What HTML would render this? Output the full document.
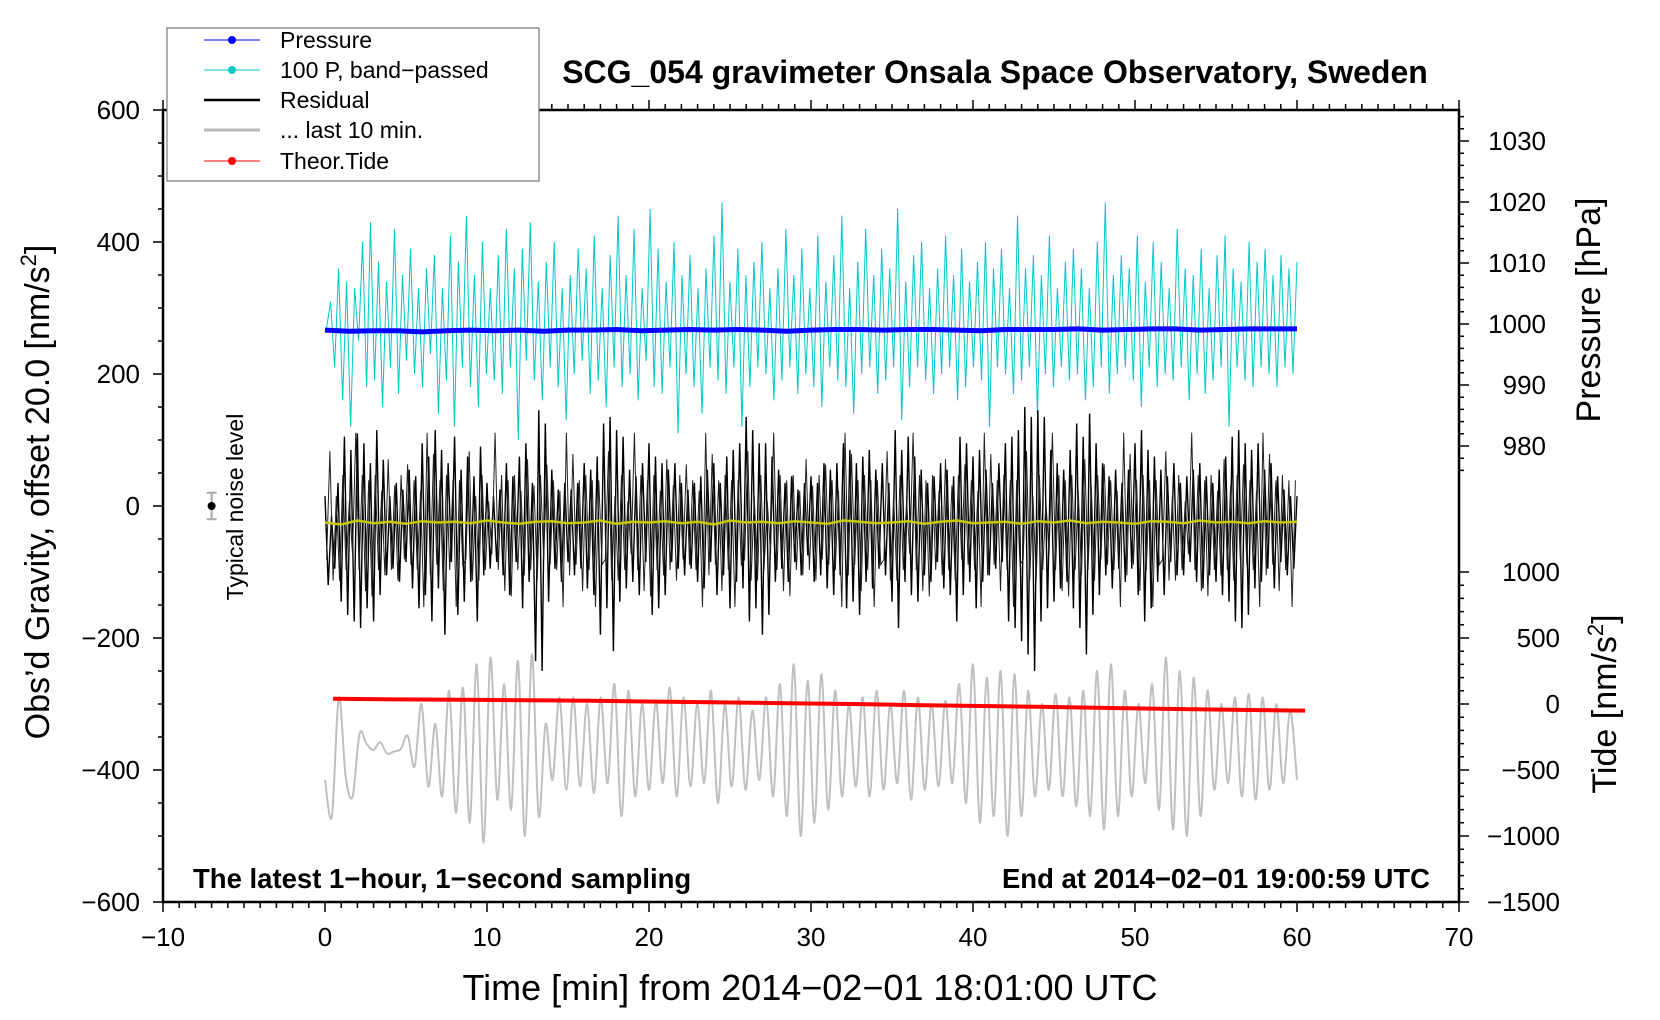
<!DOCTYPE html>
<html><head><meta charset="utf-8">
<style>
html,body{margin:0;padding:0;background:#fff;}
svg{display:block;font-family:"Liberation Sans",Arial,sans-serif;}
</style></head>
<body>
<svg id="chart" xmlns="http://www.w3.org/2000/svg" width="1660" height="1020" viewBox="0 0 1660 1020">
<rect x="0" y="0" width="1660" height="1020" fill="#fff"/>
<g id="marks"></g>
<rect x="163" y="110" width="1296" height="792" fill="none" stroke="#000" stroke-width="2.5"/>
<g id="axes"></g>
<text x="995" y="83" text-anchor="middle" font-size="32" font-weight="bold">SCG_054 gravimeter Onsala Space Observatory, Sweden</text>
<text transform="translate(49,492) rotate(-90)" text-anchor="middle" font-size="34">Obs’d Gravity, offset 20.0 [nm/s<tspan dy="-13" font-size="22">2</tspan><tspan dy="13">]</tspan></text>
<text x="810" y="1000" text-anchor="middle" font-size="36">Time [min] from 2014−02−01 18:01:00 UTC</text>
<text transform="translate(1600,310) rotate(-90)" text-anchor="middle" font-size="34">Pressure [hPa]</text>
<text transform="translate(1616,704) rotate(-90)" text-anchor="middle" font-size="34">Tide [nm/s<tspan dy="-13" font-size="22">2</tspan><tspan dy="13">]</tspan></text>
<text x="193" y="888" font-size="27.5" font-weight="bold">The latest 1−hour, 1−second sampling</text>
<text x="1430" y="888" text-anchor="end" font-size="27.5" font-weight="bold">End at 2014−02−01 19:00:59 UTC</text>
<text transform="translate(243,507) rotate(-90)" text-anchor="middle" font-size="23">Typical noise level</text>
<g>
<rect x="167" y="28" width="372" height="153" fill="#fff" stroke="#777" stroke-width="1.2"/>
<g><line x1="204" y1="40" x2="260" y2="40" stroke="#0000ff" stroke-width="1"/><circle cx="232" cy="40" r="4" fill="#0000ff"/><text x="280" y="48" font-size="23">Pressure</text></g>
<g><line x1="204" y1="70" x2="260" y2="70" stroke="#00c8c8" stroke-width="1"/><circle cx="232" cy="70" r="4" fill="#00c8c8"/><text x="280" y="78" font-size="23">100 P, band−passed</text></g>
<g><line x1="204" y1="100" x2="260" y2="100" stroke="#000" stroke-width="2.5"/><text x="280" y="108" font-size="23">Residual</text></g>
<g><line x1="204" y1="130" x2="260" y2="130" stroke="#bbb" stroke-width="3"/><text x="280" y="138" font-size="23">... last 10 min.</text></g>
<g><line x1="204" y1="161" x2="260" y2="161" stroke="#ff0000" stroke-width="1"/><circle cx="232" cy="161" r="4" fill="#ff0000"/><text x="280" y="169" font-size="23">Theor.Tide</text></g>
</g>
</svg>
<script>
// ---- data ----
const xTicks = [-10,0,10,20,30,40,50,60,70];
const yTicks = [600,400,200,0,-200,-400,-600];
const pTicks = [1030,1020,1010,1000,990,980];
const tideTicks = [1000,500,0,-500,-1000,-1500];
const resOffset = -25;
const residual = [40,-95,10,-70,60,-120,130,-140,110,-150,135,-160,120,-130,90,-150,140,-110,95,-80,40,-70,60,-90,50,-60,80,-100,70,-130,120,-110,100,-150,140,-100,110,-170,90,-60,130,-140,80,-120,100,-90,70,-150,115,-80,60,-70,40,-60,50,-80,90,-110,70,-60,100,-130,120,-90,60,-210,170,-225,150,-120,80,-70,50,-90,60,-60,50,-80,60,-70,90,-100,80,-110,100,-170,150,-130,160,-195,140,-120,130,-100,80,-90,70,-110,90,-60,120,-140,100,-130,90,-110,80,-60,90,-70,60,-80,50,-70,60,-90,70,-100,80,-60,90,-110,60,-80,100,-130,110,-90,120,-100,160,-150,140,-130,120,-170,120,-140,100,-90,80,-70,60,-90,70,-60,50,-80,60,-50,70,-90,60,-80,90,-100,80,-110,90,-80,120,-130,110,-120,90,-140,100,-90,110,-100,80,-70,90,-80,60,-120,140,-160,110,-90,130,-110,100,-120,80,-80,60,-90,70,-60,90,-100,80,-110,70,-150,130,-110,120,-90,100,-130,110,-90,80,-80,60,-70,90,-60,120,-150,130,-160,140,-180,175,-200,160,-225,170,-150,160,-130,110,-120,90,-100,80,-90,110,-130,150,-160,130,-200,165,-140,120,-110,90,-80,70,-100,80,-70,60,-90,80,-70,120,-110,140,-150,110,-130,100,-90,80,-110,70,-60,90,-80,60,-80,70,-60,80,-90,90,-100,70,-80,60,-90,80,-110,100,-120,130,-150,140,-160,120,-140,110,-100,120,-90,80,-70,90,-100,70,-60,50,-80,40,-70,40];
const residualFine = [20,-40,30,-25,45,-35,25,-50,35,-20,40,-30,50,-45,30,-25,35,-40,20,-30];
const bandBase = 270;
const bandpassed = [0,40,-60,90,-110,70,-150,60,-20,130,-90,160,-80,100,-120,70,-60,150,-100,80,-50,120,-70,60,-90,90,-40,110,-130,60,-80,140,-150,100,-60,170,-90,80,-120,130,-70,60,-80,110,-100,150,-60,90,-170,120,-50,160,-80,70,-110,100,-60,130,-90,60,-140,80,-70,120,-50,90,-100,140,-80,60,-120,110,-60,170,-90,80,-70,150,-110,60,-50,180,-90,120,-100,70,-60,130,-160,80,-70,110,-90,60,-130,90,-60,140,-80,190,-100,70,-60,120,-150,80,-90,100,-60,130,-70,60,-110,90,-80,150,-60,80,-100,120,-70,60,-90,140,-120,70,-60,110,-80,170,-90,60,-130,100,-70,150,-60,80,-100,120,-80,90,-60,180,-140,70,-90,110,-60,130,-80,60,-100,90,-70,140,-60,80,-110,120,-90,70,-60,100,-80,130,-150,90,-60,120,-70,60,-100,170,-80,90,-60,110,-130,80,-70,140,-90,60,-60,100,-80,120,-70,90,-110,60,-90,130,-60,190,-100,80,-70,110,-60,90,-80,140,-120,70,-60,130,-90,100,-70,60,-80,150,-60,90,-110,80,-70,120,-100,60,-80,110,-60,140,-150,90,-60,70,-80,130,-90,100,-60,120,-70,80,-90,110,-60,90,-70,100];
const pressure = [999.0,998.8,998.9,998.9,998.7,998.9,999.0,998.9,999.0,998.8,999.0,999.0,999.1,998.9,999.0,999.1,999.0,999.1,999.0,998.8,999.0,999.1,999.1,999.0,999.1,999.1,999.0,998.9,999.1,999.1,999.1,999.2,999.0,999.1,999.2,999.2,999.0,999.1,999.2,999.2,999.2];
const yellow = [-25,-28,-22,-26,-24,-27,-23,-25,-24,-26,-22,-25,-27,-24,-23,-26,-25,-22,-27,-24,-25,-23,-26,-24,-28,-22,-25,-24,-26,-23,-25,-27,-22,-24,-26,-25,-23,-27,-24,-22,-26,-25,-24,-27,-23,-25,-22,-26,-24,-25,-27,-23,-24,-26,-22,-25,-24,-26,-23,-25,-24];
const lastTen = [-415,-470,-290,-410,-440,-345,-360,-370,-358,-375,-372,-368,-348,-395,-300,-425,-330,-440,-280,-465,-275,-480,-240,-510,-230,-445,-270,-460,-235,-500,-225,-470,-330,-415,-290,-430,-290,-425,-300,-435,-290,-420,-270,-470,-280,-440,-300,-430,-295,-420,-275,-440,-290,-425,-300,-420,-280,-450,-300,-425,-290,-430,-310,-415,-290,-440,-270,-470,-240,-500,-265,-480,-255,-460,-280,-440,-300,-425,-290,-440,-280,-430,-300,-420,-280,-445,-290,-430,-300,-425,-295,-420,-270,-450,-240,-480,-260,-470,-250,-500,-255,-470,-280,-440,-300,-430,-285,-440,-290,-455,-280,-470,-250,-490,-240,-470,-280,-440,-300,-420,-270,-460,-230,-490,-250,-500,-260,-470,-280,-430,-300,-420,-290,-440,-285,-445,-290,-430,-300,-420,-310,-415];
const tide = [40,35,32,28,24,18,12,6,0,-8,-15,-22,-30,-38,-45,-50];

// ---- scales ----
const X = t => 163 + (t + 10) * 16.2;
const Y = g => 110 + (600 - g) * 0.66;
const YP = p => 141 + (1030 - p) * 6.1;
const YT = v => 902 - (v + 1500) * 0.132;
const NS = 'http://www.w3.org/2000/svg';
const marks = document.getElementById('marks');
const axes = document.getElementById('axes');
function mk(tag, parent) { const e = document.createElementNS(NS, tag); parent.appendChild(e); return e; }
function pathFrom(pts) { return 'M' + pts.map(p => p[0].toFixed(1) + ',' + p[1].toFixed(1)).join('L'); }
function smoothPath(pts) {
  let d = 'M' + pts[0][0].toFixed(1) + ',' + pts[0][1].toFixed(1);
  for (let i = 0; i < pts.length - 1; i++) {
    const p0 = pts[Math.max(0, i - 1)], p1 = pts[i], p2 = pts[i + 1], p3 = pts[Math.min(pts.length - 1, i + 2)];
    const c1x = p1[0] + (p2[0] - p0[0]) / 6, c1y = p1[1] + (p2[1] - p0[1]) / 6;
    const c2x = p2[0] - (p3[0] - p1[0]) / 6, c2y = p2[1] - (p3[1] - p1[1]) / 6;
    d += 'C' + c1x.toFixed(1) + ',' + c1y.toFixed(1) + ' ' + c2x.toFixed(1) + ',' + c2y.toFixed(1) + ' ' + p2[0].toFixed(1) + ',' + p2[1].toFixed(1);
  }
  return d;
}

// band-passed pressure (cyan)
{
  const pts = bandpassed.map((v, i) => [X(0.1 + i * 59.9 / (bandpassed.length - 1)), Y(bandBase + v)]);
  const el = mk('path', marks);
  el.setAttribute('d', pathFrom(pts));
  el.setAttribute('fill', 'none'); el.setAttribute('stroke', '#00c8c8'); el.setAttribute('stroke-width', '1');
  
  
}
// pressure (blue)
{
  const pts = pressure.map((v, i) => [X(i * 60 / (pressure.length - 1)), YP(v)]);
  const el = mk('path', marks);
  el.setAttribute('d', pathFrom(pts));
  el.setAttribute('fill', 'none'); el.setAttribute('stroke', '#0000ff'); el.setAttribute('stroke-width', '5');
  
  
}
// residual (black) - main swings plus fine infill
{
  const pts = residual.map((v, i) => [X(i * 60 / (residual.length - 1)), Y(v + resOffset)]);
  const el = mk('path', marks);
  el.setAttribute('d', pathFrom(pts));
  el.setAttribute('fill', 'none'); el.setAttribute('stroke', '#000'); el.setAttribute('stroke-width', '1.4');
  
  
  const n = residual.length;
  const pts2 = [];
  for (let i = 0; i < n; i++) {
    const v = residual[(i * 7 + 3) % n] * 0.8;
    pts2.push([X((i + 0.5) * 60 / (n - 1)), Y(v + resOffset)]);
  }
  const el2 = mk('path', marks);
  el2.setAttribute('d', pathFrom(pts2.filter(p => p[0] <= X(60))));
  el2.setAttribute('fill', 'none'); el2.setAttribute('stroke', '#222'); el2.setAttribute('stroke-width', '1');
  
  
}
// yellow mean line
{
  const pts = yellow.map((v, i) => [X(i * 60 / (yellow.length - 1)), Y(v)]);
  const el = mk('path', marks);
  el.setAttribute('d', pathFrom(pts));
  el.setAttribute('fill', 'none'); el.setAttribute('stroke', '#c8c800'); el.setAttribute('stroke-width', '2.5');
  
  
}
// last 10 min (gray)
{
  const pts = lastTen.map((v, i) => [X(i * 60 / (lastTen.length - 1)), Y(v)]);
  const el = mk('path', marks);
  el.setAttribute('d', smoothPath(pts));
  el.setAttribute('fill', 'none'); el.setAttribute('stroke', '#c0c0c0'); el.setAttribute('stroke-width', '2');
  
  
}
// tide (red)
{
  const pts = tide.map((v, i) => [X(0.5 + i * 60 / (tide.length - 1)), YT(v)]);
  const el = mk('path', marks);
  el.setAttribute('d', pathFrom(pts));
  el.setAttribute('fill', 'none'); el.setAttribute('stroke', '#ff0000'); el.setAttribute('stroke-width', '4');
  
  
}
// noise marker
{
  const g = mk('g', marks);
  
  
  const l = mk('path', g);
  const x = X(-7);
  l.setAttribute('d', `M${x},${Y(20)}L${x},${Y(-20)}M${x-5},${Y(20)}L${x+5},${Y(20)}M${x-5},${Y(-20)}L${x+5},${Y(-20)}`);
  l.setAttribute('stroke', '#aaa'); l.setAttribute('stroke-width', '2'); l.setAttribute('fill', 'none');
  const c = mk('circle', g);
  c.setAttribute('cx', x); c.setAttribute('cy', Y(0)); c.setAttribute('r', 4); c.setAttribute('fill', '#000');
}

// ---- axes ----
let tickD = '';
for (let t = -10; t <= 70; t++) {
  const len = t % 10 === 0 ? 10 : 6;
  tickD += `M${X(t)},902L${X(t)},${902 + len}M${X(t)},110L${X(t)},${110 - len}`;
}
for (let g = -600; g <= 600; g += 50) {
  const len = g % 200 === 0 ? 10 : 5;
  tickD += `M163,${Y(g)}L${163 - len},${Y(g)}`;
}
for (let p = 976; p <= 1034; p += 2) {
  const len = p % 10 === 0 ? 10 : 5;
  tickD += `M1459,${YP(p)}L${1459 + len},${YP(p)}`;
}
for (let v = -1500; v <= 1000; v += 100) {
  const len = v % 500 === 0 ? 10 : 5;
  tickD += `M1459,${YT(v)}L${1459 + len},${YT(v)}`;
}
{
  const el = mk('path', axes);
  el.setAttribute('d', tickD);
  el.setAttribute('stroke', '#000'); el.setAttribute('stroke-width', '1.5'); el.setAttribute('fill', 'none');
  
  
}
xTicks.forEach(t => {
  const e = mk('text', axes);
  e.setAttribute('x', X(t)); e.setAttribute('y', 946); e.setAttribute('text-anchor', 'middle'); e.setAttribute('font-size', '26');
  e.textContent = String(t).replace('-', '−');
  
  
});
yTicks.forEach(g => {
  const e = mk('text', axes);
  e.setAttribute('x', 140); e.setAttribute('y', Y(g) + 9); e.setAttribute('text-anchor', 'end'); e.setAttribute('font-size', '26');
  e.textContent = String(g).replace('-', '−');
  
  
});
pTicks.forEach(p => {
  const e = mk('text', axes);
  e.setAttribute('x', 1546); e.setAttribute('y', YP(p) + 9); e.setAttribute('text-anchor', 'end'); e.setAttribute('font-size', '26');
  e.textContent = String(p);
  
  
});
tideTicks.forEach(v => {
  const e = mk('text', axes);
  e.setAttribute('x', 1560); e.setAttribute('y', YT(v) + 9); e.setAttribute('text-anchor', 'end'); e.setAttribute('font-size', '26');
  e.textContent = String(v).replace('-', '−');
  
  
});
</script>
</body></html>
